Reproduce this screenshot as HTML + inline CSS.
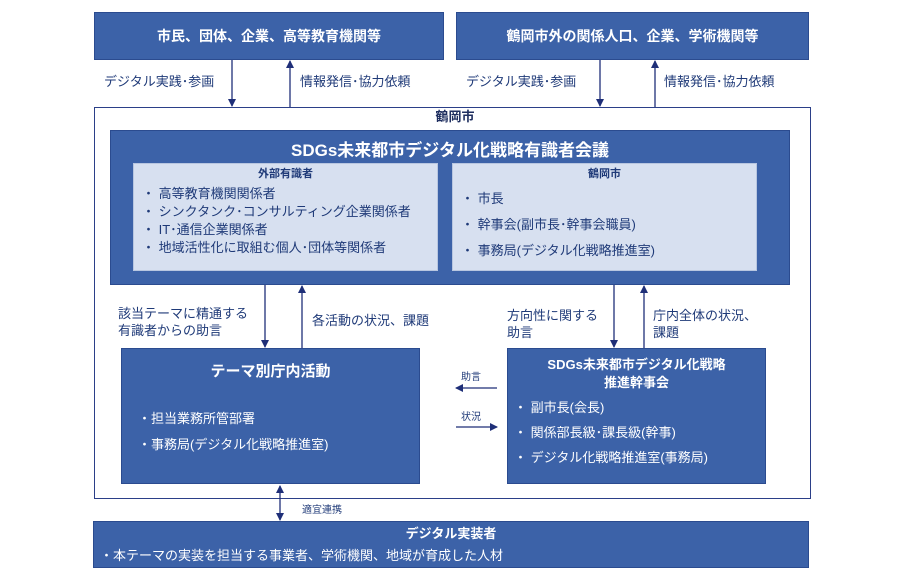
<!DOCTYPE html>
<html><head><meta charset="utf-8"><style>
body{margin:0;width:900px;height:581px;background:#fff;position:relative;overflow:hidden;font-family:"Liberation Sans","Noto Sans CJK JP",sans-serif;}
div{position:absolute;box-sizing:border-box;}
.b{background:#3c62a8;color:#fff;border:1px solid #2b4b8f;}
.l{background:#d7e0f0;color:#1f3a78;border:1px solid #b8c6e0;}
.t{color:#1f3a78;font-size:13px;line-height:17px;white-space:nowrap;}
.c{text-align:center;font-weight:bold;}
</style></head><body>
<div class="b c" style="left:94px;top:12px;width:350px;height:48px;font-size:14px;line-height:46px;">市民、団体、企業、高等教育機関等</div>
<div class="b c" style="left:456px;top:12px;width:353px;height:48px;font-size:14px;line-height:46px;">鶴岡市外の関係人口、企業、学術機関等</div>
<div class="t" style="left:104px;top:73px;">デジタル実践･参画</div>
<div class="t" style="left:300px;top:73px;">情報発信･協力依頼</div>
<div class="t" style="left:466px;top:73px;">デジタル実践･参画</div>
<div class="t" style="left:664px;top:73px;">情報発信･協力依頼</div>
<div style="left:94px;top:107px;width:717px;height:392px;border:1.5px solid #2b3f88;"></div>
<div class="t c" style="left:420px;top:108px;width:70px;font-size:13px;color:#1f2f60;">鶴岡市</div>
<div class="b" style="left:110px;top:130px;width:680px;height:155px;">
<div class="c" style="left:0;top:5px;width:678px;font-size:17px;">SDGs未来都市デジタル化戦略有識者会議</div>
</div>
<div class="l" style="left:133px;top:163px;width:305px;height:108px;">
<div class="c" style="left:0;top:1px;width:303px;font-size:11px;">外部有識者</div>
<div style="left:8px;top:21px;font-size:13px;line-height:18px;white-space:nowrap;">・ 高等教育機関関係者<br>・ シンクタンク･コンサルティング企業関係者<br>・ IT･通信企業関係者<br>・ 地域活性化に取組む個人･団体等関係者</div>
</div>
<div class="l" style="left:452px;top:163px;width:305px;height:108px;">
<div class="c" style="left:0;top:1px;width:303px;font-size:11px;">鶴岡市</div>
<div style="left:8px;top:22px;font-size:13px;line-height:26px;white-space:nowrap;">・ 市長<br>・ 幹事会(副市長･幹事会職員)<br>・ 事務局(デジタル化戦略推進室)</div>
</div>
<div class="t" style="left:118px;top:305px;">該当テーマに精通する<br>有識者からの助言</div>
<div class="t" style="left:312px;top:312px;">各活動の状況、課題</div>
<div class="t" style="left:507px;top:307px;">方向性に関する<br>助言</div>
<div class="t" style="left:653px;top:307px;">庁内全体の状況、<br>課題</div>
<div class="b" style="left:121px;top:348px;width:299px;height:136px;">
<div class="c" style="left:0;top:11px;width:297px;font-size:15px;">テーマ別庁内活動</div>
<div style="left:16px;top:57px;font-size:13px;line-height:26px;white-space:nowrap;">・担当業務所管部署<br>・事務局(デジタル化戦略推進室)</div>
</div>
<div class="b" style="left:507px;top:348px;width:259px;height:136px;">
<div class="c" style="left:0;top:7px;width:257px;font-size:13px;line-height:18px;">SDGs未来都市デジタル化戦略<br>推進幹事会</div>
<div style="left:6px;top:46px;font-size:13px;line-height:25px;white-space:nowrap;">・ 副市長(会長)<br>・ 関係部長級･課長級(幹事)<br>・ デジタル化戦略推進室(事務局)</div>
</div>
<div class="t" style="left:461px;top:369px;font-size:10px;">助言</div>
<div class="t" style="left:461px;top:409px;font-size:10px;">状況</div>
<div class="t" style="left:302px;top:502px;font-size:10px;">適宜連携</div>
<div class="b" style="left:93px;top:521px;width:716px;height:47px;">
<div class="c" style="left:0;top:1px;width:714px;font-size:13px;">デジタル実装者</div>
<div style="left:6px;top:23px;font-size:13px;white-space:nowrap;">・本テーマの実装を担当する事業者、学術機関、地域が育成した人材</div>
</div>
<svg width="900" height="581" style="position:absolute;left:0;top:0" xmlns="http://www.w3.org/2000/svg">
<defs><marker id="a" markerWidth="8" markerHeight="8" refX="7" refY="4" orient="auto-start-reverse" markerUnits="userSpaceOnUse"><path d="M0,0 L8,4 L0,8z" fill="#1f2f78"/></marker></defs>
<g stroke="#1f2f78" stroke-width="1.3" fill="none">
<line x1="232" y1="60" x2="232" y2="106" marker-end="url(#a)"/>
<line x1="290" y1="107" x2="290" y2="61" marker-end="url(#a)"/>
<line x1="600" y1="60" x2="600" y2="106" marker-end="url(#a)"/>
<line x1="655" y1="107" x2="655" y2="61" marker-end="url(#a)"/>
<line x1="265" y1="285" x2="265" y2="347" marker-end="url(#a)"/>
<line x1="302" y1="348" x2="302" y2="286" marker-end="url(#a)"/>
<line x1="614" y1="285" x2="614" y2="347" marker-end="url(#a)"/>
<line x1="644" y1="348" x2="644" y2="286" marker-end="url(#a)"/>
<line x1="497" y1="388" x2="456" y2="388" marker-end="url(#a)"/>
<line x1="456" y1="427" x2="497" y2="427" marker-end="url(#a)"/>
<line x1="280" y1="486" x2="280" y2="520" marker-start="url(#a)" marker-end="url(#a)"/>
</g></svg>
</body></html>
